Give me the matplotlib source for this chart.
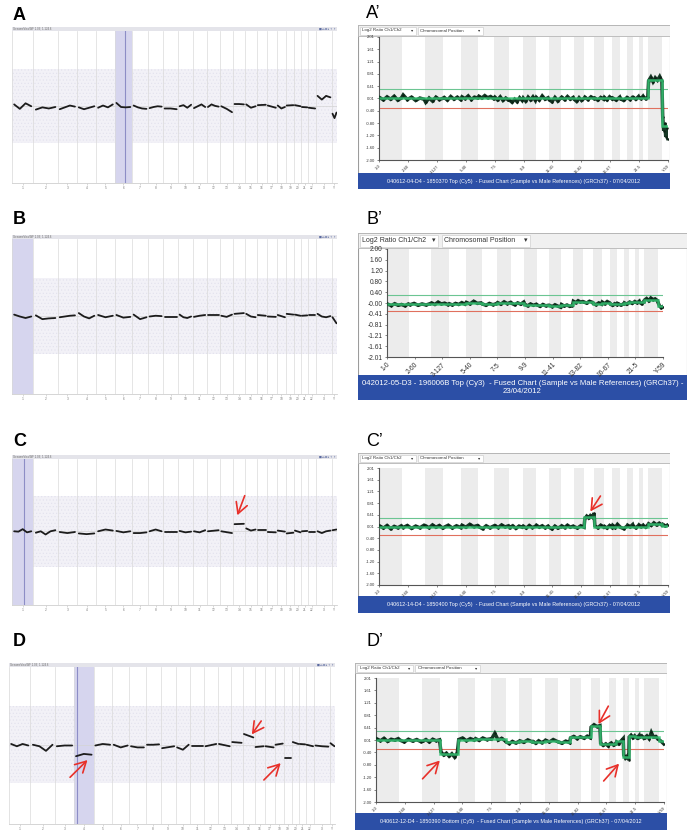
import numpy as np
import matplotlib
matplotlib.use('Agg')
import matplotlib.pyplot as plt
from matplotlib.patches import Rectangle

plt.rcParams['font.family'] = ['Liberation Sans', 'DejaVu Sans']
plt.rcParams['hatch.linewidth'] = 0.4

# ---------------- data ----------------
CHR_NAMES = [str(i) for i in range(1, 23)] + ['X', 'Y']
CHR_LEN = [249, 243, 198, 191, 181, 171, 159, 146, 141, 136, 135, 134,
           115, 107, 103, 90, 81, 78, 59, 63, 48, 51, 155, 59]
LEFT_W = [64, 73, 57, 58, 55, 52, 48, 45, 45, 43, 42, 40,
          40, 35, 35, 30, 30, 27, 25, 21, 20, 24, 48, 15]

X_TICK_LABELS = ['1-0', '2-60', '3-127', '5-40', '7-5', '9-9', '11-41',
                 '13-82', '16-67', '21-5', 'Y-59']
Y_LABELS_ACD = ['2.01', '1.61', '1.21', '0.81', '0.41', '0.01', '-0.40',
                '-0.80', '-1.20', '-1.60', '-2.00']
Y_LABELS_B = ['2.00', '1.60', '1.20', '0.80', '0.40', '-0.00', '-0.41',
              '-0.81', '-1.21', '-1.61', '-2.01']
THRESH_UP, THRESH_DN = 0.3, -0.3

# left panels (genome view), per-chromosome smoothed profile
LEFT_A = [[0.05, -0.07, 0.08, 0.0], [-0.09, -0.03, -0.06, -0.02], [-0.08, -0.03, 0.02, -0.01],
          [-0.03, -0.08, -0.04, 0.0], [-0.04, 0.02, -0.03, 0.05], [0.09, -0.02, -0.03, -0.02],
          [0.02, -0.03, -0.06, -0.07], [-0.05, -0.02, 0.0, -0.01], [-0.06, -0.06, -0.08],
          [0.0, 0.03, -0.04, 0.04], [-0.05, 0.0, 0.05, -0.02], [-0.02, 0.05, 0.01, -0.01],
          [0.0, -0.07, -0.16], [0.06, 0.06, 0.05], [0.05, -0.04, 0.0], [0.03, 0.04],
          [0.02, -0.04], [0.02, -0.06, -0.02], [0.02, 0.03], [0.03, 0.0], [-0.02, -0.03],
          [-0.04, -0.06], [0.28, 0.18, 0.28, 0.24], [-0.2, -0.32, -0.17]]
LEFT_B = [[0.03, -0.02, -0.06, -0.02], [0.01, -0.09, -0.07, -0.06], [-0.04, -0.02, 0.0, 0.01],
          [0.07, -0.02, -0.07, 0.0], [0.02, -0.04, 0.0], [0.02, -0.05, -0.03],
          [0.03, -0.09, -0.04], [-0.02, 0.0, -0.01], [-0.02, -0.02], [0.03, -0.04, -0.06, -0.02],
          [-0.03, 0.0, 0.02], [0.03, 0.03], [0.0, -0.03, 0.03], [0.05, 0.07],
          [0.05, -0.02, -0.04], [0.02, 0.0], [-0.02, -0.03], [0.02, -0.04], [0.05, 0.03],
          [0.03, 0.0], [0.0, 0.01], [0.02, 0.02], [0.05, -0.02, -0.04, -0.01], [-0.04, -0.2]]
LEFT_C = [[0.0, -0.01, 0.06, -0.03, 0.0], [-0.04, 0.0, -0.09, 0.0, 0.03], [-0.02, -0.05, -0.02],
          [-0.06, -0.08, -0.06], [0.0, 0.05, 0.02], [0.01, -0.03, 0.0], [-0.05, -0.05, -0.03],
          [0.0, 0.05, 0.0], [-0.03, -0.03], [0.01, -0.03, -0.01], [0.0, -0.03, 0.03],
          [0.0, 0.03], [0.0, -0.05], [0.2, 0.21], [0.08, 0.02, 0.05], [0.05, 0.05],
          [-0.02, -0.03], [0.02, -0.01], [-0.06, -0.04], [0.02, -0.03], [0.0, 0.01],
          [-0.03, -0.03], [0.0, -0.05, 0.0, 0.02], [0.03, 0.05]]
LEFT_D = [[0.02, -0.04, 0.02, -0.02], [0.0, -0.04, -0.16, 0.0], [-0.04, -0.02, -0.02],
          [-0.3, -0.24, -0.26], [-0.02, 0.02, 0.0], [0.0, -0.07, -0.02], [-0.04, -0.07, -0.07],
          [0.0, 0.0, 0.01], [-0.09, -0.04], [-0.07, -0.13, 0.0], [-0.02, -0.02],
          [-0.04, 0.02], [0.02, -0.04], [0.07, 0.05], [0.28, 0.19], [-0.06, -0.04],
          [-0.04, -0.07], [0.0, 0.03], [-0.34, -0.34], [0.07, 0.02], [0.02, 0.01],
          [0.0, -0.04], [-0.02, -0.04, -0.05], [0.04, -0.04]]
LEFT_HL = [5, 0, 0, 3]                 # highlighted chromosome (index)
LEFT_HL_CURSOR = [0.58, None, 0.58, 0.15]
LEFT_ARROWS_C = [(696, 1.0, 674, 0.45)]
LEFT_ARROWS_D = [(182, -0.85, 234, -0.40), (752, 0.62, 724, 0.27), (760, -0.92, 810, -0.48)]

# right panels (log2 ratio), per-chromosome probe values and segment levels
PROF_A = [[0.03, -0.04, 0.06, -0.02, 0.08, -0.05, 0.02], [0.12, -0.03, 0.05, -0.06, 0.02, -0.02],
          [-0.12, 0.02, -0.08, 0.05, -0.03, 0.01], [0.04, -0.05, 0.07, -0.02, 0.05, -0.03],
          [0.06, 0.0, 0.09, -0.03, 0.05, 0.02], [0.08, 0.02, 0.1, 0.03, 0.07, 0.0],
          [0.05, -0.04, 0.06, -0.06, 0.02, -0.05], [-0.05, -0.12, -0.02, -0.1, 0.03, -0.06],
          [0.02, -0.08, 0.05, -0.04, 0.06, -0.06], [0.04, -0.05, 0.09, -0.02, 0.03],
          [-0.03, -0.1, 0.04, -0.08, 0.02], [0.05, -0.03, 0.07, -0.02, 0.04],
          [-0.02, -0.09, 0.03, -0.06, 0.01], [0.05, -0.03, 0.06, 0.0], [0.02, -0.05, 0.04, -0.02],
          [0.04, -0.04, 0.06, -0.01], [0.02, -0.05, 0.05], [0.0, -0.06, 0.04], [0.03, -0.03, 0.05],
          [0.05, -0.02, 0.07], [0.04, 0.0, 0.08], [0.06, 0.0, 0.05],
          [0.58, 0.7, 0.55, 0.68, 0.6, 0.72, 0.57], [-0.6, -1.05, -0.8, -1.25, -0.95, -1.3]]
SEG_A = [0.02] * 22 + [0.62, -0.9]

PROF_B = [[-0.05, -0.1, -0.03, -0.09, -0.06, -0.11, -0.04], [-0.07, -0.02, -0.09, -0.04, -0.08, -0.03],
          [0.0, -0.06, 0.03, -0.04, -0.01, -0.07], [-0.03, -0.08, -0.02, -0.06, 0.01, -0.05],
          [0.02, -0.04, 0.06, -0.02, 0.0], [-0.04, -0.09, -0.02, -0.07, -0.03],
          [0.01, -0.05, 0.04, -0.03, 0.02], [-0.02, -0.07, 0.0, -0.05, 0.03],
          [-0.06, -0.11, -0.04, -0.09, -0.05], [-0.08, -0.13, -0.06, -0.11, -0.09],
          [-0.09, -0.14, -0.07, -0.12, -0.16], [-0.06, -0.12, -0.08, -0.13, -0.1],
          [0.06, 0.01, 0.08, 0.03, 0.05], [0.04, -0.01, 0.06, 0.02], [-0.02, -0.07, 0.0, -0.05],
          [0.03, -0.03, 0.05, 0.0], [-0.04, -0.09, -0.03, -0.07], [-0.02, -0.08, -0.04],
          [0.0, -0.05, 0.02], [0.03, -0.02, 0.05], [0.04, 0.0, 0.06], [0.02, -0.03, 0.05],
          [0.1, 0.16, 0.08, 0.18, 0.12, 0.15, 0.09], [0.02, -0.12, -0.18, -0.14]]
SEG_B = [-0.06, -0.06, -0.03, -0.04, 0.0, -0.05, 0.0, -0.02, -0.07, -0.09, -0.1, -0.09,
         0.04, 0.03, -0.03, 0.01, -0.05, -0.04, -0.01, 0.02, 0.03, 0.02, 0.12, -0.1]

PROF_C = [[0.02, -0.05, 0.04, -0.07, 0.01, -0.04, 0.03], [-0.03, 0.04, -0.06, 0.02, -0.04, 0.05],
          [0.03, -0.04, 0.06, -0.02, 0.04, -0.05], [-0.02, 0.05, -0.05, 0.03, -0.03],
          [0.05, -0.02, 0.08, 0.0, 0.04], [0.0, -0.07, 0.03, -0.04, 0.02],
          [0.04, -0.03, 0.06, -0.01, 0.03], [-0.03, 0.03, -0.06, 0.02, -0.02],
          [0.02, -0.05, 0.04, -0.03, 0.01], [0.05, -0.02, 0.03, -0.04, 0.02],
          [-0.02, -0.08, 0.02, -0.05, 0.0], [0.03, -0.03, 0.05, -0.02, 0.02],
          [0.0, -0.05, 0.03, -0.02], [0.28, 0.36, 0.3, 0.38, 0.33, 0.46],
          [0.03, -0.04, 0.05, -0.02], [0.01, -0.05, 0.04, -0.03], [0.04, -0.03, 0.08, 0.0],
          [-0.02, -0.07, 0.02], [0.05, -0.01, 0.07], [0.02, -0.04, 0.04], [0.06, 0.0, 0.05],
          [0.03, -0.02, 0.06], [0.1, 0.04, 0.13, 0.06, 0.12, 0.05], [0.08, 0.02, 0.06]]
SEG_C = [0.0] * 13 + [0.33] + [0.0] * 8 + [0.08, 0.03]

PROF_D = [[0.04, -0.02, 0.06, -0.04, 0.03, 0.0, 0.05], [0.0, -0.06, 0.03, -0.03, 0.02, -0.05],
          [-0.04, 0.02, -0.06, 0.03, -0.02, 0.01], [-0.38, -0.48, -0.42, -0.52, -0.44, -0.55, -0.4],
          [0.02, 0.07, -0.02, 0.05, 0.0], [0.05, -0.01, 0.07, 0.02, 0.04],
          [0.03, 0.22, 0.0, 0.06, -0.02], [-0.06, -0.11, -0.04, -0.09, -0.05],
          [-0.02, -0.07, 0.01, -0.05], [-0.04, -0.1, -0.02, -0.08, -0.03],
          [0.0, -0.06, 0.02, -0.04], [-0.05, -0.1, -0.03, -0.08], [0.07, 0.12, 0.05, 0.11],
          [0.1, 0.06, 0.13, 0.08], [0.42, 0.5, 0.44, 0.47], [-0.1, -0.17, -0.12, -0.19],
          [-0.14, -0.09, -0.16, -0.11], [-0.06, -0.12, -0.03, 0.05], [-0.48, -0.58, -0.52, -0.64],
          [0.1, 0.16, 0.08, 0.14], [0.12, 0.07, 0.15], [0.09, 0.14, 0.06],
          [0.08, 0.14, 0.05, 0.25, 0.1, 0.12, 0.03], [0.02, -0.04, -0.12]]
SEG_D = [0.02, 0.0, -0.01, -0.46, 0.02, 0.03, 0.03, -0.07, -0.03, -0.05, -0.02, -0.06,
         0.09, 0.1, 0.46, -0.14, -0.12, -0.04, -0.56, 0.12, 0.11, 0.1, 0.1, -0.03]

RIGHT_ARROWS_C = [(2370, 1.05, 2262, 0.52)]
RIGHT_ARROWS_D = [(500, -1.25, 685, -0.66), (2495, 1.1, 2390, 0.52), (2445, -1.32, 2610, -0.76)]

TITLE_A = ['040612-04-D4 - 1850370 Top (Cy5)  - Fused Chart (Sample vs Male References) (GRCh37) - 07/04/2012']
TITLE_B = ['042012-05-D3 - 196006B Top (Cy3)  - Fused Chart (Sample vs Male References) (GRCh37) -',
           '23/04/2012']
TITLE_C = ['040612-14-D4 - 1850400 Top (Cy5)  - Fused Chart (Sample vs Male References) (GRCh37) - 07/04/2012']
TITLE_D = ['040612-12-D4 - 1850390 Bottom (Cy5)  - Fused Chart (Sample vs Male References) (GRCh37) - 07/04/2012']

# ---------------- figure ----------------
W, H = 687, 836
fig = plt.figure(figsize=(W / 100, H / 100), dpi=100)
fig.patch.set_facecolor('white')

BLUE = '#2c4fa6'
DATA_C = '#173826'
SEG_C_COL = '#35c373'
RED_ARROW = '#e8302a'


def ax_px(x0, y0, x1, y1):
    return fig.add_axes([x0 / W, 1 - y1 / H, (x1 - x0) / W, (y1 - y0) / H])


def arrow(ax, a):
    tx, ty, hx, hy = a
    ax.annotate('', xy=(hx, hy), xytext=(tx, ty),
                arrowprops=dict(arrowstyle='->,head_length=0.55,head_width=0.3',
                                color=RED_ARROW, lw=1.2,
                                mutation_scale=14, shrinkA=0, shrinkB=0), zorder=10)


def draw_left(header, plot, profile, hl, cursor, arrows):
    hax = ax_px(*header)
    hax.set_xlim(0, 1); hax.set_ylim(0, 1); hax.axis('off')
    hax.add_patch(Rectangle((0, 0), 1, 1, fc='#e4e4ea', ec='none'))
    hax.text(0.003, 0.5, 'GenomeViewWF 1.0E, 1.124.6', fontsize=2.0, color='#666', va='center')
    hax.text(0.997, 0.5, '■◂▸⊡◂ ↑ ↑', fontsize=2.2, color='#5a6aa0', va='center', ha='right',
             family=['DejaVu Sans'])

    ax = ax_px(*plot)
    edges = np.concatenate([[0], np.cumsum(LEFT_W)])
    ax.set_xlim(0, edges[-1])
    ax.set_ylim(-2.07, 2.03)
    ax.add_patch(Rectangle((0, -1), edges[-1], 2, fc='#f2f1f7', ec='#e2e1ed', hatch='.....',
                           lw=0, zorder=0))
    ax.axvspan(edges[hl], edges[hl + 1], color='#d6d5ee', lw=0, zorder=1)
    if cursor is not None:
        ax.axvline(edges[hl] + cursor * LEFT_W[hl], color='#8d8dc6', lw=0.8, zorder=2)
    for e in edges[1:-1]:
        ax.axvline(e, color='#dadada', lw=0.5, zorder=1)
    ax.axhline(0, color='#d4d4d4', lw=0.5, zorder=1)
    for i, vals in enumerate(profile):
        w = LEFT_W[i]
        xs = np.linspace(edges[i] + 0.1 * w, edges[i + 1] - 0.1 * w, len(vals))
        ax.plot(xs, vals, color='#1c1c1c', lw=1.3, solid_capstyle='round',
                solid_joinstyle='round', zorder=5)
    for a in arrows:
        arrow(ax, a)
    for s in ['top', 'right']:
        ax.spines[s].set_visible(False)
    ax.spines['left'].set_color('#d8d8d8'); ax.spines['left'].set_linewidth(0.5)
    ax.spines['bottom'].set_color('#cfcfcf'); ax.spines['bottom'].set_linewidth(0.6)
    centers = (edges[:-1] + edges[1:]) / 2
    ax.set_xticks(centers)
    ax.set_xticklabels(CHR_NAMES, fontsize=2.3, color='#777')
    ax.tick_params(axis='x', length=1.2, width=0.4, color='#bbb', pad=1.2)
    ax.set_yticks([])


def draw_right(box, drop_h, drop_boxes, plot, blue_h, ylabels, ylim, profile, seg,
               title, tick_fs, drop_fs, title_fs, arrows):
    bx0, by0, bx1, by1 = box
    w, h = bx1 - bx0, by1 - by0
    oax = ax_px(*box)
    oax.set_xlim(0, w); oax.set_ylim(h, 0); oax.axis('off')
    oax.add_patch(Rectangle((0, 0), w, h, fc='white', ec='#9c9c9c', lw=0.8))
    oax.add_patch(Rectangle((0, 0), w, drop_h, fc='#f0f0f0', ec='#b5b5b5', lw=0.6))
    for (x, bw, txt) in drop_boxes:
        oax.add_patch(Rectangle((x, 1.5), bw, drop_h - 3, fc='white', ec='#cfcfcf', lw=0.5))
        oax.text(x + 2.5, drop_h / 2, txt, fontsize=drop_fs, color='#333', va='center', ha='left')
        oax.text(x + bw - 3, drop_h / 2, '▾', fontsize=drop_fs, color='#333', va='center',
                 ha='right', family=['DejaVu Sans'])
    oax.add_patch(Rectangle((0, h - blue_h), w, blue_h, fc=BLUE, ec='none'))
    oax.text(w / 2, h - blue_h / 2, '\n'.join(title), fontsize=title_fs, color='white',
             ha='center', va='center', linespacing=1.05)

    pax = ax_px(*plot)
    starts = np.concatenate([[0], np.cumsum(CHR_LEN)])
    total = starts[-1]
    pax.set_xlim(0, total)
    pax.set_ylim(ylim)
    for i in range(0, 24, 2):
        pax.axvspan(starts[i], starts[i + 1], color='#ececec', lw=0, zorder=0)
    pax.axhline(THRESH_UP, color='#6cc592', lw=0.8, zorder=2)
    pax.axhline(THRESH_DN, color='#e0705e', lw=0.8, zorder=2)
    xs_all, ys_all = [], []
    for i, vals in enumerate(profile):
        L = CHR_LEN[i]
        xs_all.extend(np.linspace(starts[i] + 0.04 * L, starts[i + 1] - 0.04 * L, len(vals)))
        ys_all.extend(vals)
    pax.plot(xs_all, ys_all, color=DATA_C, lw=2.5, zorder=3, solid_joinstyle='miter')
    pax.plot(xs_all, ys_all, 'o', color='#0b1f13', ms=1.8, mew=0, zorder=4)
    pax.stairs(seg, starts, baseline=None, color=SEG_C_COL, lw=1.8, alpha=0.85, zorder=5)
    for a in arrows:
        arrow(pax, a)
    for s in ['top', 'right']:
        pax.spines[s].set_visible(False)
    for s in ['left', 'bottom']:
        pax.spines[s].set_color('#555'); pax.spines[s].set_linewidth(0.8)
    pax.set_yticks(np.linspace(ylim[1], ylim[0], 11))
    pax.set_yticklabels(ylabels, fontsize=tick_fs, color='#333')
    pax.set_xticks(np.linspace(0, total, 11))
    pax.set_xticklabels(X_TICK_LABELS, fontsize=tick_fs, color='#333', rotation=45,
                        ha='right', rotation_mode='anchor')
    pax.tick_params(length=1.5, width=0.5, color='#555', pad=1.5)


# ---- left panels
draw_left((12, 27, 337, 31), (12, 31, 337, 183), LEFT_A, LEFT_HL[0], LEFT_HL_CURSOR[0], [])
draw_left((12, 235, 337, 239), (12, 239, 337, 394), LEFT_B, LEFT_HL[1], LEFT_HL_CURSOR[1], [])
draw_left((12, 455, 337, 459), (12, 459, 337, 605), LEFT_C, LEFT_HL[2], LEFT_HL_CURSOR[2],
          LEFT_ARROWS_C)
draw_left((9, 663, 335, 667), (9, 667, 335, 824), LEFT_D, LEFT_HL[3], LEFT_HL_CURSOR[3],
          LEFT_ARROWS_D)

# ---- right panels
DROP_S = [(2, 56, 'Log2 Ratio Ch1/Ch2'), (60, 65, 'Chromosomal Position')]
DROP_L = [(2, 78, 'Log2 Ratio Ch1/Ch2'), (84, 88, 'Chromosomal Position')]
draw_right((358, 25, 670, 189), 11, DROP_S, (379, 37, 668, 160), 16, Y_LABELS_ACD,
           (-2.00, 2.01), PROF_A, SEG_A, TITLE_A, 3.0, 3.2, 3.9, [])
draw_right((358, 233, 687, 400), 15, DROP_L, (387, 249, 663, 357), 25, Y_LABELS_B,
           (-2.01, 2.00), PROF_B, SEG_B, TITLE_B, 4.8, 5.0, 5.6, [])
draw_right((358, 453, 670, 613), 10, DROP_S, (379, 468, 668, 585), 17, Y_LABELS_ACD,
           (-2.00, 2.01), PROF_C, SEG_C, TITLE_C, 3.0, 3.2, 3.9, RIGHT_ARROWS_C)
draw_right((355, 663, 667, 830), 10, DROP_S, (376, 678, 664, 802), 17, Y_LABELS_ACD,
           (-2.00, 2.01), PROF_D, SEG_D, TITLE_D, 3.0, 3.2, 3.9, RIGHT_ARROWS_D)

# ---- panel letters
for txt, x, y in [('A', 13, 16), ('B', 13, 220), ('C', 13, 441), ('D', 13, 641)]:
    fig.text(x / W, 1 - y / H, txt, fontsize=13, fontweight='bold', ha='left', va='center')
for txt, x, y in [('A\u2019', 366, 13), ('B\u2019', 366, 219), ('C\u2019', 366, 441), ('D\u2019', 366, 642)]:
    fig.text(x / W, 1 - y / H, txt, fontsize=13, ha='left', va='center')

fig.savefig('out.png', dpi=100, facecolor='white')
